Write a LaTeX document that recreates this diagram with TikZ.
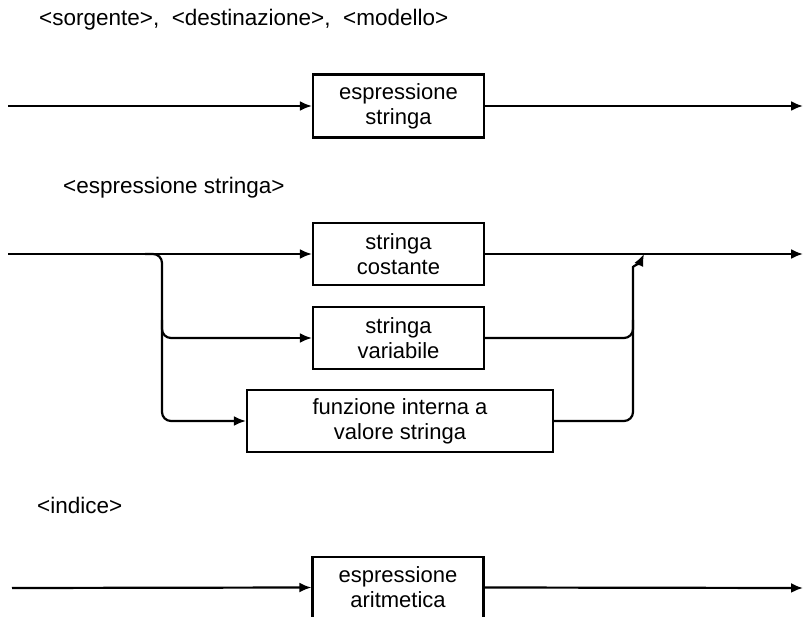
\documentclass[tikz,border=0pt]{standalone}
\usepackage{fontspec}
\setmainfont{Liberation Sans}
\usetikzlibrary{arrows.meta}
\begin{document}
\begin{tikzpicture}[x=1pt,y=-1pt,
  flow/.style={line width=2.2pt},
  tip/.style={-{Latex[length=12pt,width=10pt]}},
  arr/.style={flow,tip},
  box/.style={draw,line width=2.2pt,align=center,font=\fontsize{22}{25}\selectfont,
              inner sep=0pt},
  title/.style={anchor=west,font=\fontsize{22.5}{26}\selectfont,inner sep=0pt}]
\useasboundingbox (0,0) rectangle (803,617);
\begin{scope}
\clip (0,0) rectangle (803,617);

% ---- sorgente / destinazione / modello
\node[title] (t1) at (39,20) {<sorgente>,\ \ <destinazione>,\ \ <modello>};
\coordinate (a0) at (8,106);
\node[box,minimum width=171pt,minimum height=63pt] (a1) at (398.5,106) {espressione\\stringa};
\coordinate (a2) at (803,106);
\draw[arr] (a0) -- (a1.west);
\draw[arr] (a1.east) -- (a2);

% ---- espressione stringa
\node[title] (t2) at (63,188) {<espressione stringa>};
\coordinate (b0) at (8,254);
\node[box,minimum width=171pt,minimum height=62pt] (b1) at (398.5,254) {stringa\\costante};
\node[box,minimum width=171pt,minimum height=62pt] (b2) at (398.5,338) {stringa\\variabile};
\node[box,minimum width=306pt,minimum height=62pt] (b3) at (400,421) {funzione interna a\\valore stringa};
\coordinate (b4) at (803,254);
\coordinate (bl) at (162,254);
\coordinate (bj) at (644,254);
\coordinate (br) at (633,276);
\draw[arr] (b0) -- (b1.west);
\draw[arr] (b1.east) -- (b4);
\draw[flow,rounded corners=9pt] (145,254) -- (bl) |- ([xshift=-22pt]b2.west);
\draw[arr] ([xshift=-24pt]b2.west) -- (b2.west);
\draw[arr,rounded corners=9pt] (162,320) |- (b3.west);
\draw[arr,rounded corners=9pt] (b3.east) -| (br) to[out=90,in=-115] (bj);
\draw[flow,rounded corners=9pt] (b2.east) -| (633,320);

% ---- indice
\node[title] (t3) at (37,505) {<indice>};
\coordinate (c0) at (12,588);
\node[box,minimum width=171pt,minimum height=61pt] (c1) at (398,587.5) {espressione\\aritmetica};
\coordinate (c2) at (803,588);
\draw[arr] (c0) -- (c1.west);
\draw[arr] (c1.east) -- (c2);
\end{scope}
\end{tikzpicture}
\end{document}
